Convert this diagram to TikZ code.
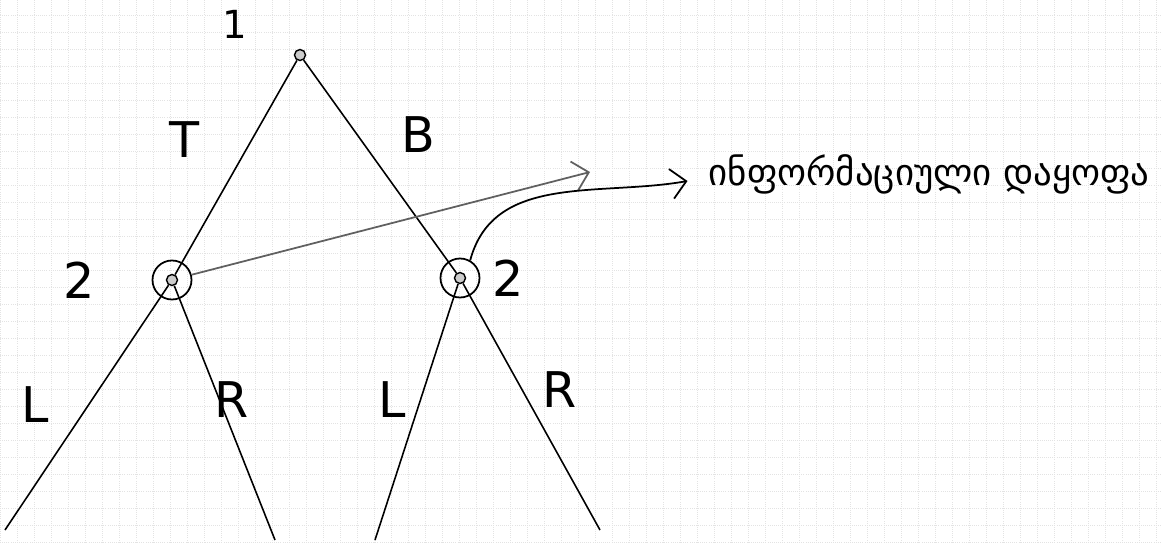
\documentclass[tikz,border=0pt]{standalone}
\usepackage{fontspec}
\setmainfont{DejaVu Sans}
\newfontfamily\geofont{DejaVu Sans}
\usetikzlibrary{arrows.meta, positioning}

\begin{document}
\begin{tikzpicture}[
    node distance=1cm,
    branch/.style={draw=black, line width=0.9pt},
    decision/.style={circle, draw, fill=gray!40, line width=0.8pt, inner sep=0pt, minimum size=2.2mm},
    infoset/.style={circle, draw, line width=1pt, minimum size=7.8mm, inner sep=0pt},
    lbl/.style={font=\fontsize{28}{32}\selectfont},
    pointer/.style={-{Straight Barb[length=3mm, width=6mm]}, line width=1pt}
]
    \useasboundingbox (0,0) rectangle (23.24,10.84);
    % squared paper
    \draw[gray!22, very thin, densely dotted] (0,0) grid[step=0.34] (23.24,10.84);

    \node[decision] (root) at (6.00,9.74) {};
    \node[decision] (p2l) at (3.44,5.24) {};
    \node[decision] (p2r) at (9.20,5.28) {};
    \node[infoset] (setl) at (p2l) {};
    \node[infoset] (setr) at (p2r) {};

    \coordinate (endll) at (0.10,0.24);
    \coordinate (endlr) at (5.50,0.04);
    \coordinate (endrl) at (7.50,0.04);
    \coordinate (endrr) at (12.00,0.24);

    \draw[branch] (root) -- (p2l);
    \draw[branch] (root) -- (p2r);
    \draw[branch] (p2l) -- (endll);
    \draw[branch] (p2l) -- (endlr);
    \draw[branch] (p2r) -- (endrl);
    \draw[branch] (p2r) -- (endrr);

    % labels
    \node[lbl, font=\fontsize{22}{26}\selectfont] (one) at (4.70,10.36) {1};
    \node[lbl] (top) at (3.70,8.04) {T};
    \node[lbl] (bot) at (8.36,8.14) {B};
    \node[lbl, left=1.3cm of p2l] (twol) {2};
    \node[lbl, right=0.4cm of p2r] (twor) {2};
    \node[lbl] (ll) at (0.70,2.74) {L};
    \node[lbl] (lr) at (4.64,2.84) {R};
    \node[lbl] (rl) at (7.84,2.84) {L};
    \node[lbl] (rr) at (11.20,3.04) {R};

    % information set
    \node[anchor=west, font=\geofont\fontsize{21}{25}\selectfont] (info) at (14.05,7.35) {ინფორმაციული დაყოფა};
    \coordinate (tipa) at (11.80,7.40);
    \coordinate (tipb) at (13.75,7.22);
    \draw[pointer, draw=gray!75!black] (setl.15) -- (tipa);
    \draw[pointer] (setr.60) to[out=75, in=190] (tipb);
\end{tikzpicture}
\end{document}
